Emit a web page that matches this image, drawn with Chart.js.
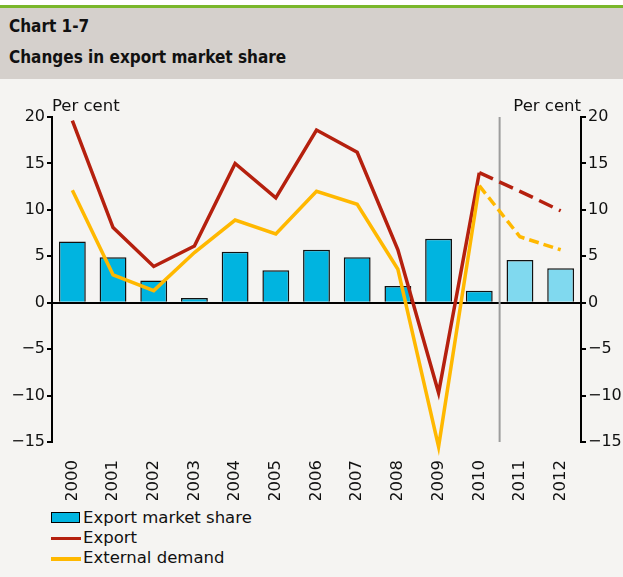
<!DOCTYPE html>
<html>
<head>
<meta charset="utf-8">
<script src="https://cdn.jsdelivr.net/npm/chart.js@4"></script>
<style>
  html, body { margin:0; padding:0; }
  body { width:623px; height:577px; background:#f5f4f2; position:relative; overflow:hidden; font-family:'DejaVu Sans', sans-serif; color:#111; }
  .topline { position:absolute; left:0; top:5px; width:623px; height:3px; background:#7ab72b; }
  .whitebar { position:absolute; left:0; top:0; width:623px; height:5px; background:#fff; }
  .header { position:absolute; left:0; top:8px; width:623px; height:71px; background:#d5d0cc; }
  .header div { position:absolute; left:9px; font-family:'DejaVu Sans Condensed', 'DejaVu Sans', sans-serif; font-weight:bold; font-size:17px; }
  #wrap { position:absolute; left:0; top:80px; width:623px; height:420px; }
  .legend { position:absolute; left:51px; top:508px; font-size:16.5px; }
  .legend .row { position:relative; height:20px; line-height:20px; white-space:nowrap; }
  .legend .sw { position:absolute; left:0; }
  .legend .txt { position:absolute; left:32px; top:0; }
</style>
</head>
<body>
<div class="whitebar"></div>
<div class="topline"></div>
<div class="header">
  <div style="top:8px">Chart 1-7</div>
  <div style="top:39px">Changes in export market share</div>
</div>
<div id="wrap"><canvas id="c"></canvas></div>
<div class="legend">
  <div class="row"><span class="sw" style="top:4px;width:27px;height:9px;background:#00b4e0;border:1.5px solid #000;"></span><span class="txt">Export market share</span></div>
  <div class="row"><span class="sw" style="top:9px;width:30px;height:3px;background:#b5200e;"></span><span class="txt">Export</span></div>
  <div class="row"><span class="sw" style="top:9px;width:30px;height:4px;background:#ffb800;"></span><span class="txt">External demand</span></div>
</div>
<script>
// Endring i eksportmarkedsandel, prosent
const years = ['2000','2001','2002','2003','2004','2005','2006','2007','2008','2009','2010','2011','2012'];
const marketShare = [6.6, 4.9, 2.4, 0.5, 5.5, 3.5, 5.7, 4.9, 1.8, 6.9, 1.3, 4.6, 3.7];
const exportGrowth = [19.6, 8.1, 3.9, 6.1, 15.0, 11.3, 18.6, 16.2, 5.7, -9.7, 14.0, 12.0, 9.9];
const externalDemand = [12.1, 3.0, 1.3, 5.4, 8.9, 7.4, 12.0, 10.6, 3.6, -15.5, 12.6, 7.1, 5.7];
const yTicks = [-15, -10, -5, 0, 5, 10, 15, 20];
const forecastFrom = 10; // 2010 -> anslag etterpå

Chart.defaults.font.family = "'DejaVu Sans', sans-serif";
Chart.defaults.font.size = 16.5;
Chart.defaults.color = '#111';

const barColors = years.map((y, i) => i > forecastFrom ? '#80d9ef' : '#00b4e0');
const minus = v => String(v).replace('-', '\u2212');

const extras = {
  id:'extras',
  beforeDatasetsDraw(chart) {
    const {ctx, chartArea, scales} = chart;
    const x = (scales.x.getPixelForValue(forecastFrom) + scales.x.getPixelForValue(forecastFrom + 1)) / 2;
    ctx.save();
    ctx.strokeStyle = '#9d9d9d';
    ctx.lineWidth = 2;
    ctx.beginPath();
    ctx.moveTo(x, chartArea.top);
    ctx.lineTo(x, chartArea.bottom);
    ctx.stroke();
    ctx.restore();
  },
  afterDraw(chart) {
    const {ctx, chartArea} = chart;
    ctx.save();
    ctx.font = "16.5px 'DejaVu Sans'";
    ctx.fillStyle = '#111';
    ctx.textBaseline = 'alphabetic';
    ctx.textAlign = 'left';
    ctx.fillText('Per cent', chartArea.left, chartArea.top - 6);
    ctx.textAlign = 'right';
    ctx.fillText('Per cent', chartArea.right, chartArea.top - 6);
    ctx.restore();
  }
};

const dashed = pattern => ({ borderDash: c => c.p0DataIndex >= forecastFrom ? pattern : undefined });

new Chart(document.getElementById('c'), {
  data:{
    labels: years,
    datasets:[
      { type:'line', label:'Export', data:exportGrowth, borderColor:'#b5200e', borderWidth:3.5, pointRadius:0, tension:0, clip:false, order:1, segment:dashed([15,7]) },
      { type:'line', label:'External demand', data:externalDemand, borderColor:'#ffb800', borderWidth:3.5, pointRadius:0, tension:0, clip:false, order:0, segment:dashed([10,5]) },
      { type:'bar', label:'Export market share', data:marketShare, backgroundColor:barColors, borderColor:'#111', borderWidth:1.5, barPercentage:0.66, categoryPercentage:1, order:2 }
    ]
  },
  options:{
    responsive:true,
    maintainAspectRatio:false,
    animation:false,
    layout:{ padding:{ top:37, left:0, right:0, bottom:0 } },
    plugins:{ legend:{ display:false }, tooltip:{ enabled:false } },
    scales:{
      x:{
        offset:true,
        grid:{ display:false },
        border:{ display:false },
        ticks:{ minRotation:90, maxRotation:90, padding:10, autoSkip:false },
        afterFit(s) { s.height = 58; }
      },
      y:{
        position:'left', min:-15, max:20,
        afterBuildTicks(s) { s.ticks = yTicks.map(v => ({ value:v })); },
        ticks:{ callback:minus, padding:2, font:{ size:16 } },
        border:{ color:'#000', width:2 },
        grid:{ color:c => c.tick && c.tick.value === 0 ? '#000' : 'rgba(0,0,0,0)', lineWidth:2, tickColor:'#000', tickLength:5 },
        afterFit(s) { s.width = 52; }
      },
      y1:{
        position:'right', min:-15, max:20,
        afterBuildTicks(s) { s.ticks = yTicks.map(v => ({ value:v })); },
        ticks:{ callback:minus, padding:2, font:{ size:16 } },
        border:{ color:'#000', width:2 },
        grid:{ drawOnChartArea:false, tickColor:'#000', tickLength:5, lineWidth:2 },
        afterFit(s) { s.width = 42; }
      }
    }
  },
  plugins:[extras]
});
</script>
</body>
</html>
